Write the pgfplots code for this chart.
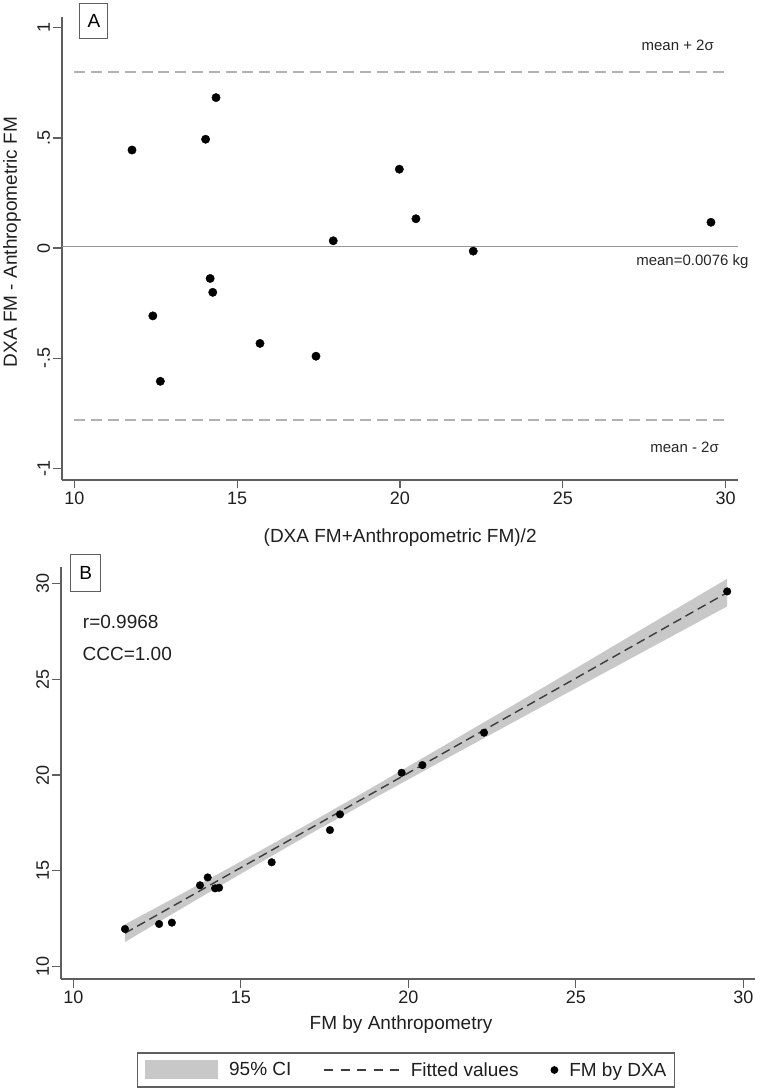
\documentclass[border=0pt]{standalone}
\usepackage{fontspec}
\setmainfont{Liberation Sans}
\usepackage{pgfplots}
\pgfplotsset{compat=1.18}
\definecolor{axgray}{RGB}{95,95,95}
\definecolor{refgray}{RGB}{178,178,178}
\definecolor{meangray}{RGB}{150,150,150}
\definecolor{cigray}{RGB}{200,200,200}
\definecolor{fitgray}{RGB}{60,60,60}
\pgfplotsset{stata/.style={
  scale only axis, clip=false,
  axis x line=bottom, axis y line=left,
  axis line style={-, draw=axgray, line width=1.3pt},
  tick align=outside, major tick length=8.5pt,
  tick style={draw=axgray, line width=1.2pt},
  minor tick num=0,
  ticklabel style={font=\fontsize{18}{20}\selectfont, text=black!88},
  yticklabel style={rotate=90, anchor=south},
  label style={font=\fontsize{19}{22}\selectfont, text=black!88},
}}
\begin{document}
\begin{tikzpicture}[x=1pt,y=1pt]
\useasboundingbox (0,0) rectangle (761,1092);
% ---------------- Panel A ----------------
\begin{axis}[stata,
  at={(62pt,612pt)}, anchor=south west,
  width=676.3pt, height=463pt,
  xmin=9.62, xmax=30.39, ymin=-1.053, ymax=1.049,
  xtick={10,15,20,25,30}, xticklabels={10,15,20,25,30},
  ytick={-1,-0.5,0,0.5,1}, yticklabels={-1,-.5,0,.5,1},
  xlabel={(DXA FM+Anthropometric FM)/2},
  ylabel={DXA FM - Anthropometric FM},
  xlabel style={at={(axis description cs:0.5,-0.125)}, anchor=center},
  ylabel style={at={(axis description cs:-0.074,0.514)}, anchor=center},
]
\addplot[meangray, line width=1.6pt] coordinates {(9.62,0.0076) (30.39,0.0076)};
\addplot[refgray, line width=2pt, dash pattern=on 11pt off 5.8pt] coordinates {(10,0.797) (30,0.797)};
\addplot[refgray, line width=2pt, dash pattern=on 11pt off 5.8pt] coordinates {(10,-0.782) (30,-0.782)};
\addplot[only marks, mark=*, mark size=4.2pt, black] coordinates {
(11.77,0.445) (14.03,0.494) (14.35,0.683) (17.95,0.033) (19.98,0.358)
(20.49,0.133) (22.25,-0.014) (29.55,0.117) (14.17,-0.138) (14.25,-0.201)
(12.41,-0.308) (12.64,-0.605) (15.70,-0.433) (17.42,-0.491)
};
\node[font=\fontsize{15}{17}\selectfont, anchor=base, text=black!85] at (axis cs:28.53,0.895) {mean + 2σ};
\node[font=\fontsize{15}{17}\selectfont, anchor=base, text=black!85] at (axis cs:28.98,-0.077) {mean=0.0076 kg};
\node[font=\fontsize{15}{17}\selectfont, anchor=base, text=black!85] at (axis cs:28.74,-0.926) {mean - 2σ};
\node[draw=axgray, line width=1pt, minimum width=28pt, minimum height=35pt, inner sep=0pt,
      font=\fontsize{19}{22}\selectfont] at (axis cs:10.60,1.03) {A};
\end{axis}
% ---------------- Panel B ----------------
\begin{axis}[stata,
  at={(61pt,113pt)}, anchor=south west,
  width=694pt, height=412.3pt,
  xmin=9.63, xmax=30.35, ymin=9.36, ymax=30.87,
  xtick={10,15,20,25,30}, xticklabels={10,15,20,25,30},
  ytick={10,15,20,25,30}, yticklabels={10,15,20,25,30},
  xlabel={FM by Anthropometry},
  xlabel style={at={(axis description cs:0.49,-0.1116)}, anchor=center},
  legend columns=3,
  legend style={at={(axis description cs:0.497,-0.2207)}, anchor=center,
    draw=axgray, line width=1.3pt, inner xsep=8pt, inner ysep=7.5pt,
    font=\fontsize{19}{22}\selectfont, text=black!88,
    column sep=11pt, /tikz/every even column/.append style={column sep=32pt},
    nodes={inner sep=0pt}},
]
\addplot[fill=cigray, draw=none,
  legend image code/.code={\fill[cigray] (0pt,-9.5pt) rectangle (72.7pt,9.5pt);}]
  coordinates {
  (11.54,12.21) (13,13.58) (15,15.49) (17,17.44) (19,19.43) (21,21.47)
  (23,23.51) (25,25.57) (27,27.64) (29.52,30.24)
  (29.52,28.80) (27,26.42) (25,24.53) (23,22.63) (21,20.73) (19,18.81)
  (17,16.86) (15,14.85) (13,12.80) (11.54,11.29)
  } -- cycle;
\addplot[fitgray, line width=1.4pt, dash pattern=on 9pt off 5pt,
  legend image code/.code={\draw[fitgray, line width=1.4pt, dash pattern=on 9pt off 7.5pt] (0pt,0pt) -- (75pt,0pt);}]
  coordinates {(11.54,11.75) (29.52,29.52)};
\addplot[only marks, mark=*, mark size=3.8pt, black,
  legend image code/.code={\fill[black] (3.2pt,0pt) circle (3.2pt);}]
  coordinates {
(11.54,11.97) (12.56,12.23) (12.94,12.30) (13.78,14.25) (14.01,14.66)
(14.23,14.09) (14.35,14.12) (15.92,15.45) (17.66,17.13) (17.96,17.95)
(19.80,20.12) (20.42,20.52) (22.26,22.21) (29.52,29.58)
};
\legend{95\% CI, Fitted values, FM by DXA}
\node[font=\fontsize{19}{22}\selectfont, anchor=base west, text=black!88] at (axis cs:10.18,27.65) {r=0.9968};
\node[font=\fontsize{19}{22}\selectfont, anchor=base west, text=black!88] at (axis cs:10.17,25.96) {CCC=1.00};
\node[draw=axgray, line width=1pt, minimum width=29.7pt, minimum height=37pt, inner sep=0pt,
      font=\fontsize{19}{22}\selectfont] at (axis cs:10.37,30.56) {B};
\end{axis}
\end{tikzpicture}
\end{document}
